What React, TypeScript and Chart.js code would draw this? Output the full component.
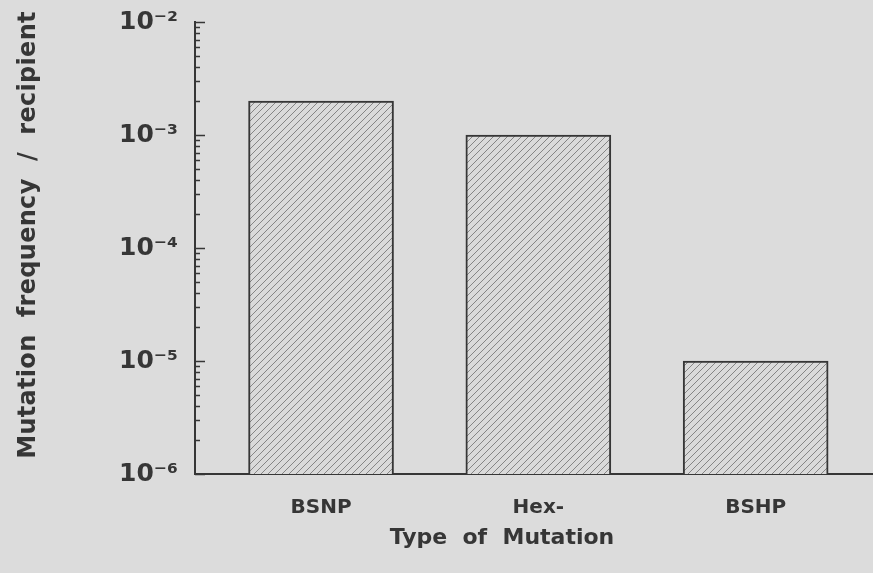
import React, { useEffect, useRef } from 'react';
import { Chart, registerables } from 'chart.js';

Chart.register(...registerables);

// ---- data ----
const categories = ['BSNP', 'Hex-', 'BSHP'];
const mutationFrequency = [2e-3, 1e-3, 1e-5];
const yTickValues = [1e-6, 1e-5, 1e-4, 1e-3, 1e-2];
const yTickLabels = ['10⁻⁶', '10⁻⁵', '10⁻⁴', '10⁻³', '10⁻²'];
const xTitle = 'Type  of  Mutation';
const yTitle = 'Mutation  frequency  /  recipient';

// ---- style ----
const FONT = '"DejaVu Sans", "Liberation Sans", sans-serif';
const INK = '#363636';
const BG = '#dcdcdc';
const X_MIN = -0.58;
const X_MAX = 2.54;

function makeHatch(ctx: CanvasRenderingContext2D) {
  const s = 7;
  const c = document.createElement('canvas');
  c.width = s;
  c.height = s;
  const g = c.getContext('2d')!;
  g.fillStyle = '#dadada';
  g.fillRect(0, 0, s, s);
  g.strokeStyle = '#858585';
  g.lineWidth = 1;
  g.beginPath();
  g.moveTo(-1, s + 1);
  g.lineTo(s + 1, -1);
  g.moveTo(-1, 1);
  g.lineTo(1, -1);
  g.moveTo(s - 1, s + 1);
  g.lineTo(s + 1, s - 1);
  g.stroke();
  return ctx.createPattern(c, 'repeat');
}

const decorPlugin = {
  id: 'decor',
  afterDraw(chart: any) {
    const { ctx, scales } = chart;
    const y = scales.y;
    ctx.save();
    // inward tick marks on the y axis
    ctx.strokeStyle = INK;
    ctx.lineWidth = 1.5;
    const x0 = y.right;
    for (const t of y.ticks) {
      const py = Math.round(y.getPixelForValue(t.value)) + 0.5;
      const len = t.major ? 10 : 5;
      ctx.beginPath();
      ctx.moveTo(x0, py);
      ctx.lineTo(x0 + len, py);
      ctx.stroke();
    }
    // axis titles
    ctx.fillStyle = INK;
    ctx.textAlign = 'center';
    ctx.textBaseline = 'middle';
    ctx.font = `bold 22px ${FONT}`;
    (ctx as any).letterSpacing = '0px';
    ctx.fillText(xTitle, 502, 538);
    ctx.translate(29, 235);
    ctx.rotate(-Math.PI / 2);
    ctx.font = `bold 24px ${FONT}`;
    (ctx as any).letterSpacing = '0.3px';
    ctx.fillText(yTitle, 0, 0);
    ctx.restore();
  },
};

export default function App() {
  const ref = useRef<HTMLCanvasElement | null>(null);

  useEffect(() => {
    const canvas = ref.current!;
    const ctx = canvas.getContext('2d')!;
    const hatch = makeHatch(ctx);

    const chart = new Chart(ctx, {
      type: 'bar',
      data: {
        datasets: [
          {
            data: mutationFrequency.map((v, i) => ({ x: i, y: v })),
            backgroundColor: hatch as any,
            borderColor: INK,
            borderWidth: 2,
            barThickness: 145,
          },
        ],
      },
      options: {
        animation: false,
        responsive: false,
        devicePixelRatio: 1,
        layout: { autoPadding: false, padding: { top: 22, right: 0, left: 0, bottom: 0 } },
        plugins: { legend: { display: false }, tooltip: { enabled: false } },
        scales: {
          x: {
            type: 'linear',
            offset: false,
            min: X_MIN,
            max: X_MAX,
            afterFit: (s: any) => {
              s.height = 99;
              s.paddingLeft = 0;
              s.paddingRight = 0;
            },
            afterBuildTicks: (s: any) => {
              s.ticks = categories.map((_, i) => ({ value: i }));
            },
            grid: { display: false, drawTicks: false, offset: false },
            border: { display: true, color: INK, width: 2 },
            ticks: {
              autoSkip: false,
              maxRotation: 0,
              padding: 22,
              color: INK,
              font: { family: FONT, size: 20, weight: 'bold' },
              callback: (v: any) => categories[Math.round(Number(v))] ?? '',
            },
          },
          y: {
            type: 'logarithmic',
            min: yTickValues[0],
            max: yTickValues[yTickValues.length - 1],
            afterFit: (s: any) => {
              s.width = 195;
              s.paddingTop = 0;
              s.paddingBottom = 0;
            },
            afterBuildTicks: (s: any) => {
              const ticks: any[] = [];
              const top = yTickValues[yTickValues.length - 1];
              for (const d of yTickValues) {
                for (let m = 1; m <= 9; m++) {
                  const v = m * d;
                  if (v > top * 1.0001) break;
                  ticks.push({ value: v, major: m === 1 });
                }
              }
              s.ticks = ticks;
            },
            grid: { display: false, drawTicks: false },
            border: { display: true, color: INK, width: 2 },
            ticks: {
              autoSkip: false,
              padding: 17,
              color: INK,
              font: { family: FONT, size: 25, weight: 'bold' },
              callback: (v: any, i: number, ticks: any[]) => {
                if (!ticks[i] || !ticks[i].major) return '';
                const k = Math.round(Math.log10(Number(v)));
                const idx = yTickValues.findIndex((t) => Math.round(Math.log10(t)) === k);
                return idx >= 0 ? yTickLabels[idx] : '';
              },
            },
          },
        },
      },
      plugins: [decorPlugin],
    });
    return () => chart.destroy();
  }, []);

  return (
    <div
      style={{
        position: 'fixed',
        left: 0,
        top: 0,
        width: 873,
        height: 573,
        background: BG,
      }}
    >
      <canvas ref={ref} width={873} height={573} style={{ display: 'block' }} />
    </div>
  );
}
